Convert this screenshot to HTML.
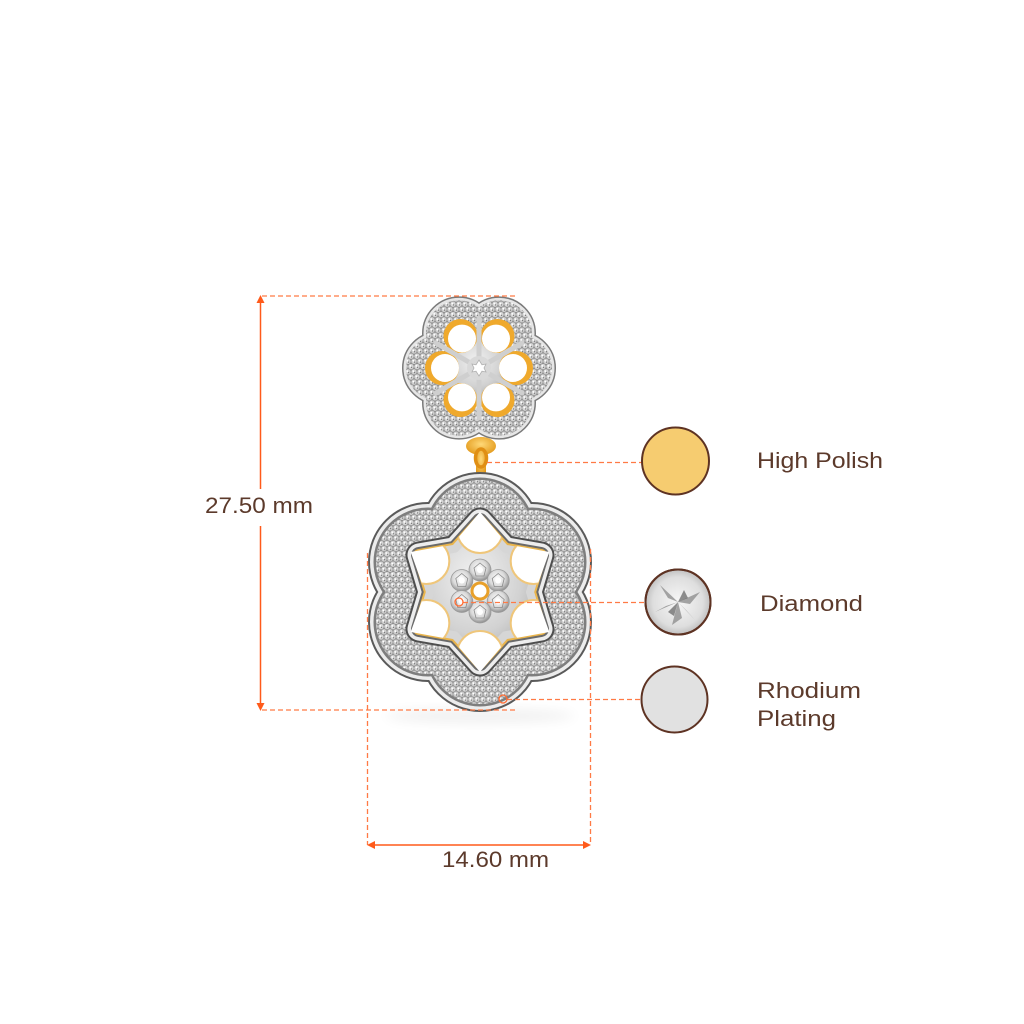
<!DOCTYPE html>
<html>
<head>
<meta charset="utf-8">
<style>
  html,body{margin:0;padding:0;background:#fff;}
  svg{display:block;}
  text{font-family:"Liberation Sans",sans-serif;fill:#5c3a2b;}
</style>
</head>
<body>
<svg width="1024" height="1024" viewBox="0 0 1024 1024" xmlns="http://www.w3.org/2000/svg">
  <defs>
    <pattern id="pave" width="6" height="10.4" patternUnits="userSpaceOnUse">
      <rect width="6" height="10.4" fill="#8f8f8f"/>
      <circle cx="3" cy="2.6" r="2.7" fill="#d6d6d6"/>
      <circle cx="0" cy="7.8" r="2.7" fill="#cfcfcf"/>
      <circle cx="6" cy="7.8" r="2.7" fill="#cfcfcf"/>
      <circle cx="2.3" cy="1.9" r="0.9" fill="#ffffff"/>
      <circle cx="5.3" cy="7.1" r="0.9" fill="#ffffff"/>
      <circle cx="3.6" cy="3.3" r="0.6" fill="#6d6d6d"/>
      <circle cx="0.6" cy="8.5" r="0.6" fill="#6d6d6d"/>
    </pattern>
    <radialGradient id="silver" cx="45%" cy="40%" r="65%">
      <stop offset="0" stop-color="#f2f2f2"/>
      <stop offset="0.6" stop-color="#d2d2d2"/>
      <stop offset="1" stop-color="#a9a9a9"/>
    </radialGradient>
    <radialGradient id="dia" cx="45%" cy="40%" r="60%">
      <stop offset="0" stop-color="#ffffff"/>
      <stop offset="0.6" stop-color="#dadada"/>
      <stop offset="1" stop-color="#8f8f8f"/>
    </radialGradient>
    <radialGradient id="gold" cx="50%" cy="40%" r="60%">
      <stop offset="0" stop-color="#ffd978"/>
      <stop offset="1" stop-color="#e39a1c"/>
    </radialGradient>
    <radialGradient id="swdia" cx="50%" cy="50%" r="55%">
      <stop offset="0" stop-color="#f7f7f7"/>
      <stop offset="0.7" stop-color="#dedede"/>
      <stop offset="1" stop-color="#b4b4b4"/>
    </radialGradient>
    <filter id="blur" x="-50%" y="-50%" width="200%" height="200%">
      <feGaussianBlur stdDeviation="6"/>
    </filter>
    <g id="bfl">
      <circle cx="480" cy="532" r="52"/>
      <circle cx="532" cy="562" r="52"/>
      <circle cx="532" cy="622" r="52"/>
      <circle cx="480" cy="652" r="52"/>
      <circle cx="428" cy="562" r="52"/>
      <circle cx="428" cy="622" r="52"/>
    </g>
    <g id="tfl">
      <circle cx="519" cy="368" r="33"/>
      <circle cx="499" cy="333.4" r="33"/>
      <circle cx="459" cy="333.4" r="33"/>
      <circle cx="439" cy="368" r="33"/>
      <circle cx="459" cy="402.6" r="33"/>
      <circle cx="499" cy="402.6" r="33"/>
    </g>
    <polygon id="star" points="535,592 549.3,552 507.5,544.4 480,512 452.5,544.4 410.7,552 425,592 410.7,632 452.5,639.6 480,672 507.5,639.6 549.3,632"/>
    <polygon id="stari" points="530,592 541,555 505,548.7 480,521 455,548.7 419,555 430,592 419,629 455,635.3 480,663 505,635.3 541,629"/>
    <clipPath id="starclip">
      <use href="#star"/>
    </clipPath>
    <g id="dm">
      <circle r="11" fill="url(#dia)" stroke="#9a9a9a" stroke-width="0.8"/>
      <polygon points="0,-7 6,-2 4,6 -4,6 -6,-2" fill="none" stroke="#8a8a8a" stroke-width="0.8"/>
      <circle r="3" fill="#ffffff"/>
    </g>
  </defs>

  <!-- shadow -->
  <ellipse cx="480" cy="716" rx="95" ry="7" fill="#000" opacity="0.06" filter="url(#blur)"/>

  <!-- gold bail cup -->
  <ellipse cx="481" cy="446" rx="15" ry="9" fill="url(#gold)"/>

  <!-- TOP FLOWER -->
  <use href="#tfl" fill="#7a7a7a" stroke="#7a7a7a" stroke-width="8"/>
  <use href="#tfl" fill="#e6e6e6" stroke="#e6e6e6" stroke-width="5"/>
  <use href="#tfl" fill="url(#pave)"/>
  <circle cx="479" cy="368" r="31" fill="url(#silver)"/>
  <g fill="#efa92c">
    <circle cx="516" cy="368" r="17"/>
    <circle cx="497.5" cy="336" r="17"/>
    <circle cx="460.5" cy="336" r="17"/>
    <circle cx="442" cy="368" r="17"/>
    <circle cx="460.5" cy="400" r="17"/>
    <circle cx="497.5" cy="400" r="17"/>
  </g>
  <g fill="#ffffff">
    <circle cx="513" cy="368" r="14"/>
    <circle cx="496" cy="338.6" r="14"/>
    <circle cx="462" cy="338.6" r="14"/>
    <circle cx="445" cy="368" r="14"/>
    <circle cx="462" cy="397.4" r="14"/>
    <circle cx="496" cy="397.4" r="14"/>
  </g>
  <g stroke="#cfcfcf" stroke-width="5" stroke-linecap="round">
    <line x1="479" y1="368" x2="479" y2="318"/>
    <line x1="479" y1="368" x2="522" y2="343"/>
    <line x1="479" y1="368" x2="522" y2="393"/>
    <line x1="479" y1="368" x2="479" y2="418"/>
    <line x1="479" y1="368" x2="436" y2="343"/>
    <line x1="479" y1="368" x2="436" y2="393"/>
  </g>
  <circle cx="479" cy="368" r="12" fill="#d9d9d9"/>
  <polygon points="479,360 482,364.8 486,364 484,368 486,372 482,371.2 479,376 476,371.2 472,372 474,368 472,364 476,364.8" fill="#ffffff" stroke="#b0b0b0" stroke-width="0.8"/>

  <!-- bail ring -->
  <rect x="476" y="448" width="10" height="28" rx="4" fill="url(#gold)"/>
  <ellipse cx="481" cy="458" rx="5.5" ry="9" fill="none" stroke="#e08f14" stroke-width="3.5"/>

  <!-- BOTTOM FLOWER -->
  <use href="#bfl" fill="#5a5a5a" stroke="#5a5a5a" stroke-width="16"/>
  <use href="#bfl" fill="#ececec" stroke="#ececec" stroke-width="12"/>
  <use href="#bfl" fill="#7e7e7e" stroke="#7e7e7e" stroke-width="5"/>
  <use href="#bfl" fill="url(#pave)"/>

  <!-- star rim -->
  <use href="#stari" fill="none" stroke="#4e4e4e" stroke-width="27" stroke-linejoin="round"/>
  <use href="#stari" fill="none" stroke="#ededed" stroke-width="23" stroke-linejoin="round"/>
  <use href="#stari" fill="none" stroke="#6a6a6a" stroke-width="16" stroke-linejoin="round"/>
  <use href="#stari" fill="url(#silver)" stroke="#eab54c" stroke-width="12" stroke-linejoin="round"/>
  <use href="#stari" fill="url(#silver)" stroke="#d6d6d6" stroke-width="8" stroke-linejoin="round"/>
  <g clip-path="url(#starclip)">
    <g fill="#ffffff" stroke="#efc67a" stroke-width="2">
      <circle cx="480" cy="530" r="23"/>
      <circle cx="533.7" cy="561" r="23"/>
      <circle cx="533.7" cy="623" r="23"/>
      <circle cx="480" cy="654" r="23"/>
      <circle cx="426.3" cy="561" r="23"/>
      <circle cx="426.3" cy="623" r="23"/>
    </g>
  </g>

  <!-- centre cluster -->
  <use href="#dm" x="480" y="570"/>
  <use href="#dm" x="498.2" y="580.5"/>
  <use href="#dm" x="498.2" y="601.5"/>
  <use href="#dm" x="480" y="612"/>
  <use href="#dm" x="461.8" y="580.5"/>
  <use href="#dm" x="461.8" y="601.5"/>
  <circle cx="480" cy="591" r="8" fill="#ffffff" stroke="#e8a02a" stroke-width="3"/>

  <!-- DIMENSION LINES -->
  <g stroke="#ff7a45" stroke-width="1.3" stroke-dasharray="5 3" fill="none">
    <line x1="262" y1="296" x2="517" y2="296"/>
    <line x1="262" y1="710" x2="518" y2="710"/>
    <line x1="367.5" y1="553" x2="367.5" y2="845"/>
    <line x1="590.5" y1="549" x2="590.5" y2="845"/>
    <line x1="487" y1="462.5" x2="642" y2="462.5"/>
    <line x1="463" y1="602.5" x2="645" y2="602.5"/>
    <line x1="507" y1="699.5" x2="642" y2="699.5"/>
  </g>
  <circle cx="459" cy="602" r="4" fill="none" stroke="#ff6a30" stroke-width="1.3"/>
  <circle cx="503" cy="699" r="4" fill="none" stroke="#ff6a30" stroke-width="1.3"/>

  <g stroke="#ff5a1a" stroke-width="1.5">
    <line x1="260.5" y1="300" x2="260.5" y2="489"/>
    <line x1="260.5" y1="526" x2="260.5" y2="706"/>
    <line x1="372" y1="845" x2="586" y2="845"/>
  </g>
  <g fill="#ff5a1a">
    <polygon points="260.5,295 256.5,303 264.5,303"/>
    <polygon points="260.5,711 256.5,703 264.5,703"/>
    <polygon points="367,845 375,841 375,849"/>
    <polygon points="591,845 583,841 583,849"/>
  </g>

  <text x="205" y="513" font-size="22" textLength="108" lengthAdjust="spacingAndGlyphs">27.50 mm</text>
  <text x="442" y="867" font-size="22" textLength="107" lengthAdjust="spacingAndGlyphs">14.60 mm</text>

  <!-- SWATCHES -->
  <circle cx="675.5" cy="461" r="33.5" fill="#f6cc70" stroke="#5e3323" stroke-width="2"/>
  <circle cx="678" cy="602" r="32.5" fill="url(#swdia)" stroke="#5e3323" stroke-width="2"/>
  <g fill="#8a8a8a" opacity="0.75">
    <polygon points="678,602 660,585 668,598"/>
    <polygon points="678,602 700,592 690,604"/>
    <polygon points="678,602 672,625 682,618"/>
    <polygon points="678,602 695,620 686,610"/>
    <polygon points="678,602 655,612 666,606"/>
  </g>
  <g fill="#4a4a4a" opacity="0.6">
    <polygon points="678,602 668,612 674,616"/>
    <polygon points="678,602 684,590 688,598"/>
  </g>
  <circle cx="678" cy="602" r="32.5" fill="none" stroke="#5e3323" stroke-width="2"/>
  <circle cx="674.5" cy="699.5" r="33" fill="#e1e1e1" stroke="#5e3323" stroke-width="2"/>

  <text x="757" y="468" font-size="22" textLength="126" lengthAdjust="spacingAndGlyphs">High Polish</text>
  <text x="760" y="611" font-size="22" textLength="103" lengthAdjust="spacingAndGlyphs">Diamond</text>
  <text x="757" y="698" font-size="22" textLength="104" lengthAdjust="spacingAndGlyphs">Rhodium</text>
  <text x="757" y="726" font-size="22" textLength="79" lengthAdjust="spacingAndGlyphs">Plating</text>
</svg>
</body>
</html>
